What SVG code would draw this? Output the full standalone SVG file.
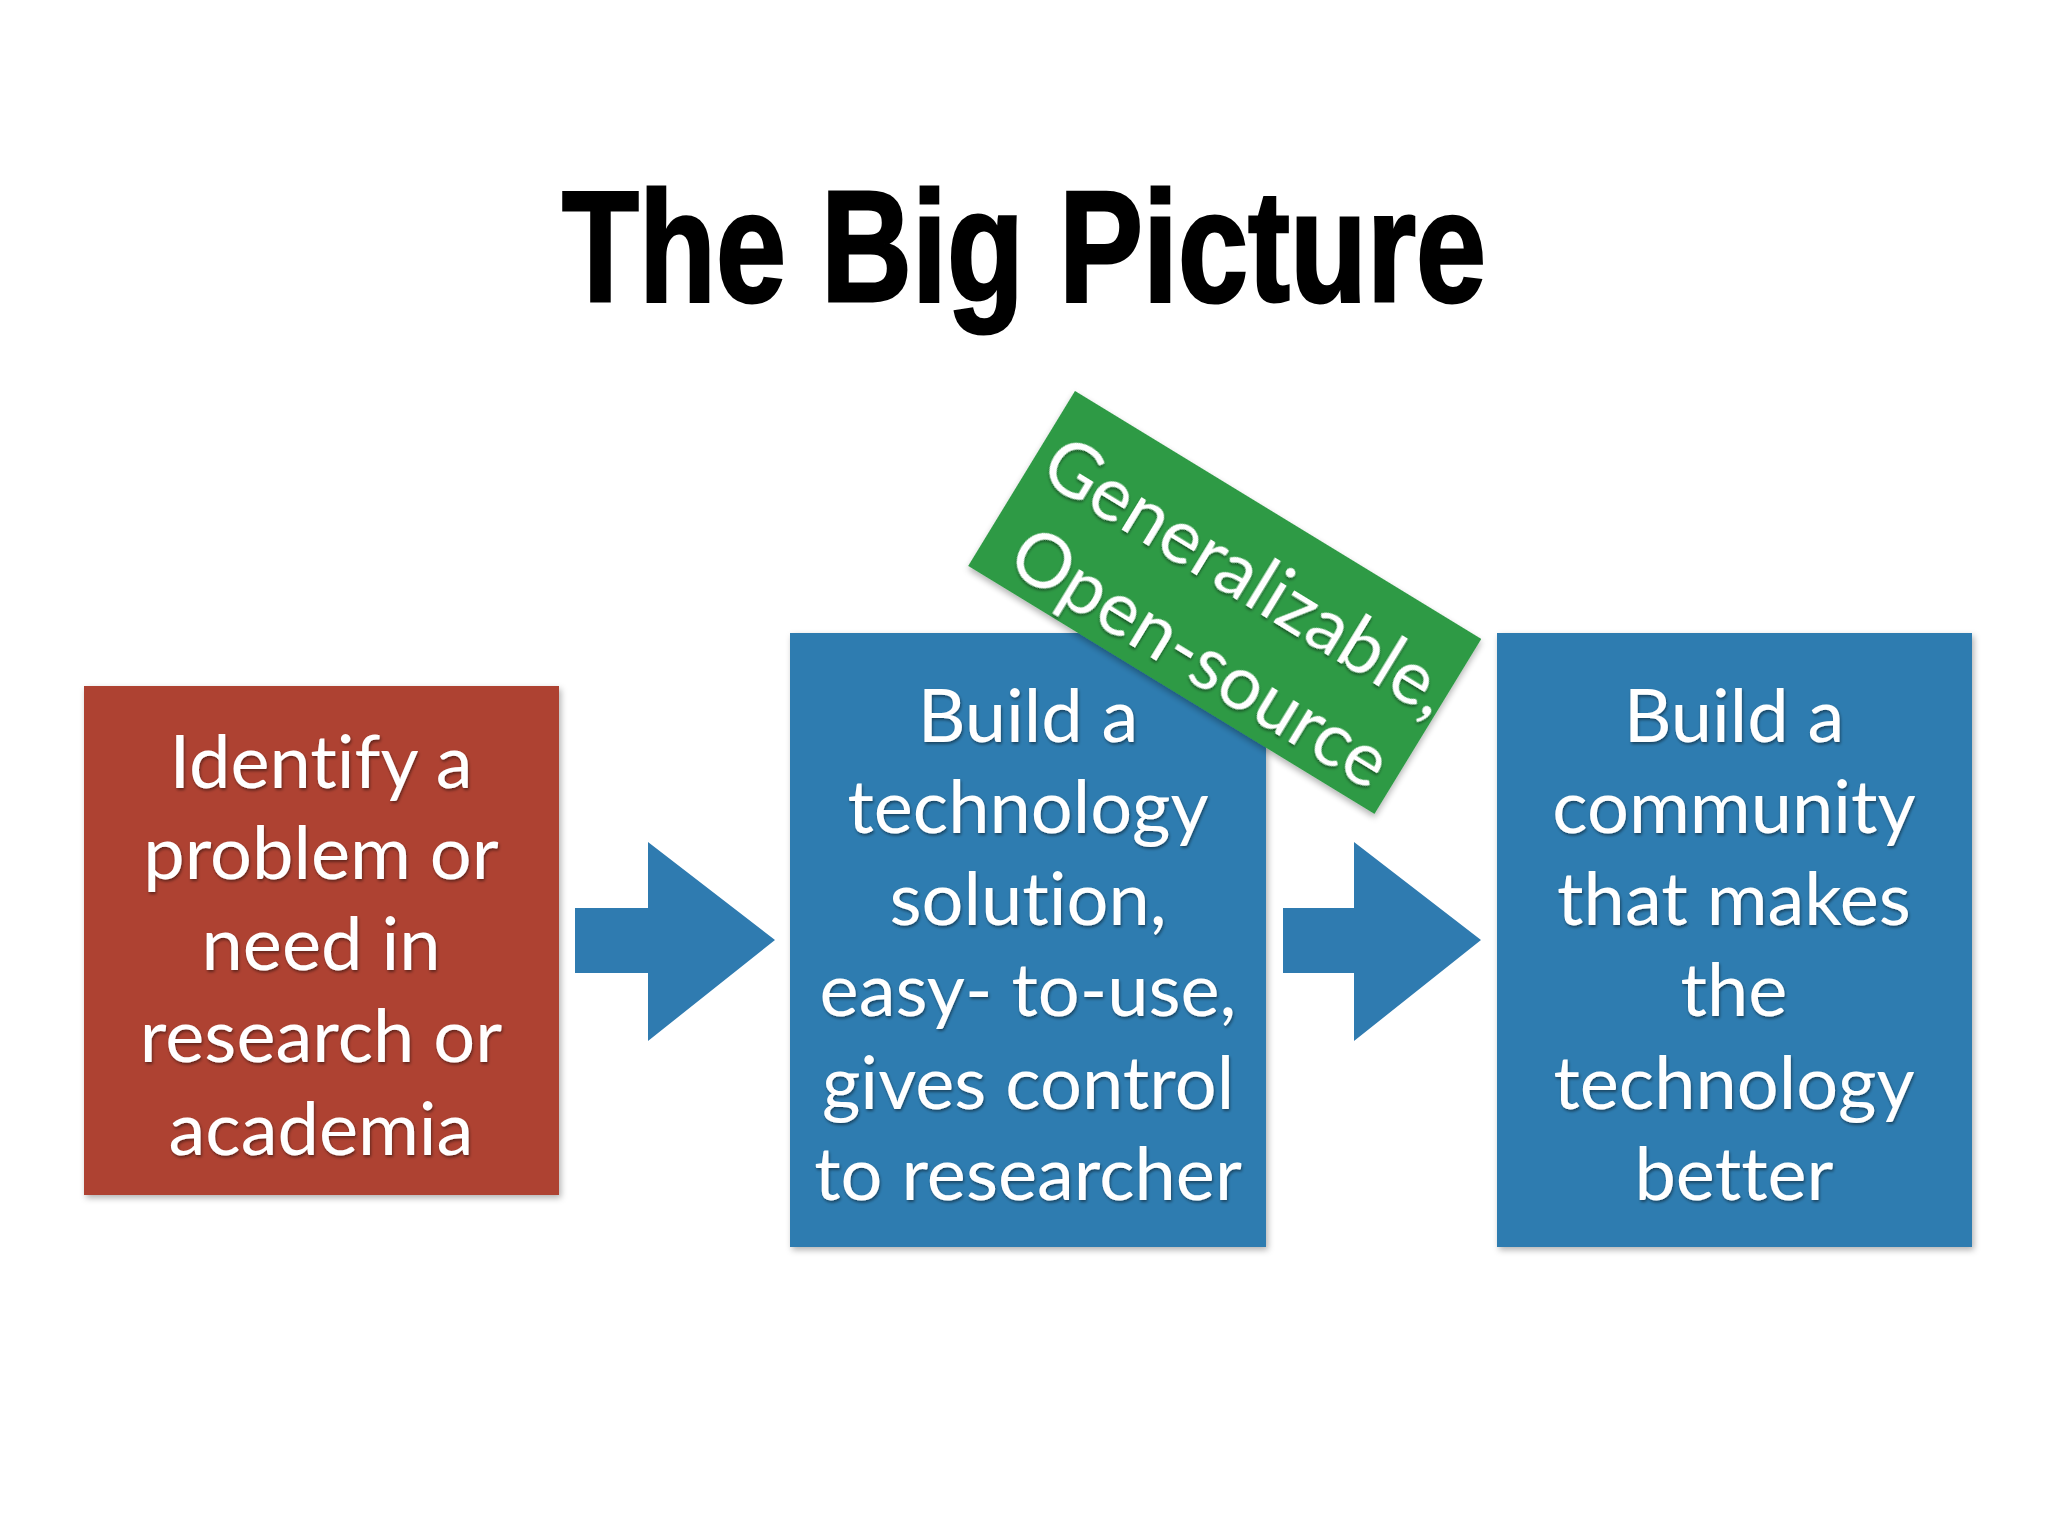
<svg xmlns="http://www.w3.org/2000/svg" width="2048" height="1536" viewBox="0 0 2048 1536">
  <defs>
    <filter id="boxShadow" x="-10%" y="-10%" width="120%" height="120%">
      <feDropShadow dx="2" dy="3" stdDeviation="3" flood-color="#000" flood-opacity="0.3"/>
    </filter>
    <filter id="txtShadow" x="-10%" y="-20%" width="120%" height="140%">
      <feDropShadow dx="1" dy="2" stdDeviation="1.5" flood-color="#000" flood-opacity="0.45"/>
    </filter>
  </defs>
  <style>
    .title { font-family: "Liberation Sans", Arial, sans-serif; font-weight: bold; font-size: 158px; fill: #000; stroke: #000; stroke-width: 3; }
    .lbl { font-family: Lato, "Open Sans", sans-serif; font-size: 74px; fill: #fff; text-anchor: middle; filter: url(#txtShadow); font-variant-ligatures: none; font-feature-settings: "liga" 0, "clig" 0; }
    .big { font-size: 75px; }
    .red { fill: #AE4333; filter: url(#boxShadow); }
    .blue { fill: #2F7BB0; filter: url(#boxShadow); }
    .green { fill: #2F9A44; filter: url(#boxShadow); }
    .arrow { fill: #2F7BB0; }
  </style>
  <rect width="2048" height="1536" fill="#ffffff"/>

  <text class="title" x="1024" y="301" text-anchor="middle" textLength="924" lengthAdjust="spacingAndGlyphs">The Big Picture</text>

  <g id="connectors">
    <polygon class="arrow" points="575,908 648,908 648,842 775,940 648,1041 648,973 575,973"/>
    <polygon class="arrow" points="1283,908 1354,908 1354,842 1481,940 1354,1041 1354,973 1283,973"/>
  </g>

  <g id="node-identify">
    <rect class="red" x="84" y="686" width="475" height="509"/>
    <text class="lbl" x="321" y="788">Identify a</text>
    <text class="lbl" x="321" y="879">problem or</text>
    <text class="lbl" x="321" y="970">need in</text>
    <text class="lbl" x="321" y="1062">research or</text>
    <text class="lbl" x="321" y="1155">academia</text>
  </g>

  <g id="node-technology">
    <rect class="blue" x="790" y="633" width="476" height="614"/>
    <text class="lbl" x="1028" y="742">Build a</text>
    <text class="lbl" x="1028" y="833">technology</text>
    <text class="lbl" x="1028" y="925">solution,</text>
    <text class="lbl" x="1028" y="1016">easy- to-use,</text>
    <text class="lbl" x="1028" y="1109">gives control</text>
    <text class="lbl" x="1028" y="1200">to researcher</text>
  </g>

  <g id="node-community">
    <rect class="blue" x="1497" y="633" width="475" height="614"/>
    <text class="lbl" x="1734" y="742">Build a</text>
    <text class="lbl" x="1734" y="833">community</text>
    <text class="lbl" x="1734" y="925">that makes</text>
    <text class="lbl" x="1734" y="1016">the</text>
    <text class="lbl" x="1734" y="1109">technology</text>
    <text class="lbl" x="1734" y="1200">better</text>
  </g>

  <g id="node-generalizable" transform="translate(1225,602) rotate(31.4)">
    <rect class="green" x="-238" y="-102" width="476" height="205"/>
    <text class="lbl big" x="6" y="-8">Generalizable,</text>
    <text class="lbl big" x="8" y="86">Open-source</text>
  </g>
</svg>
